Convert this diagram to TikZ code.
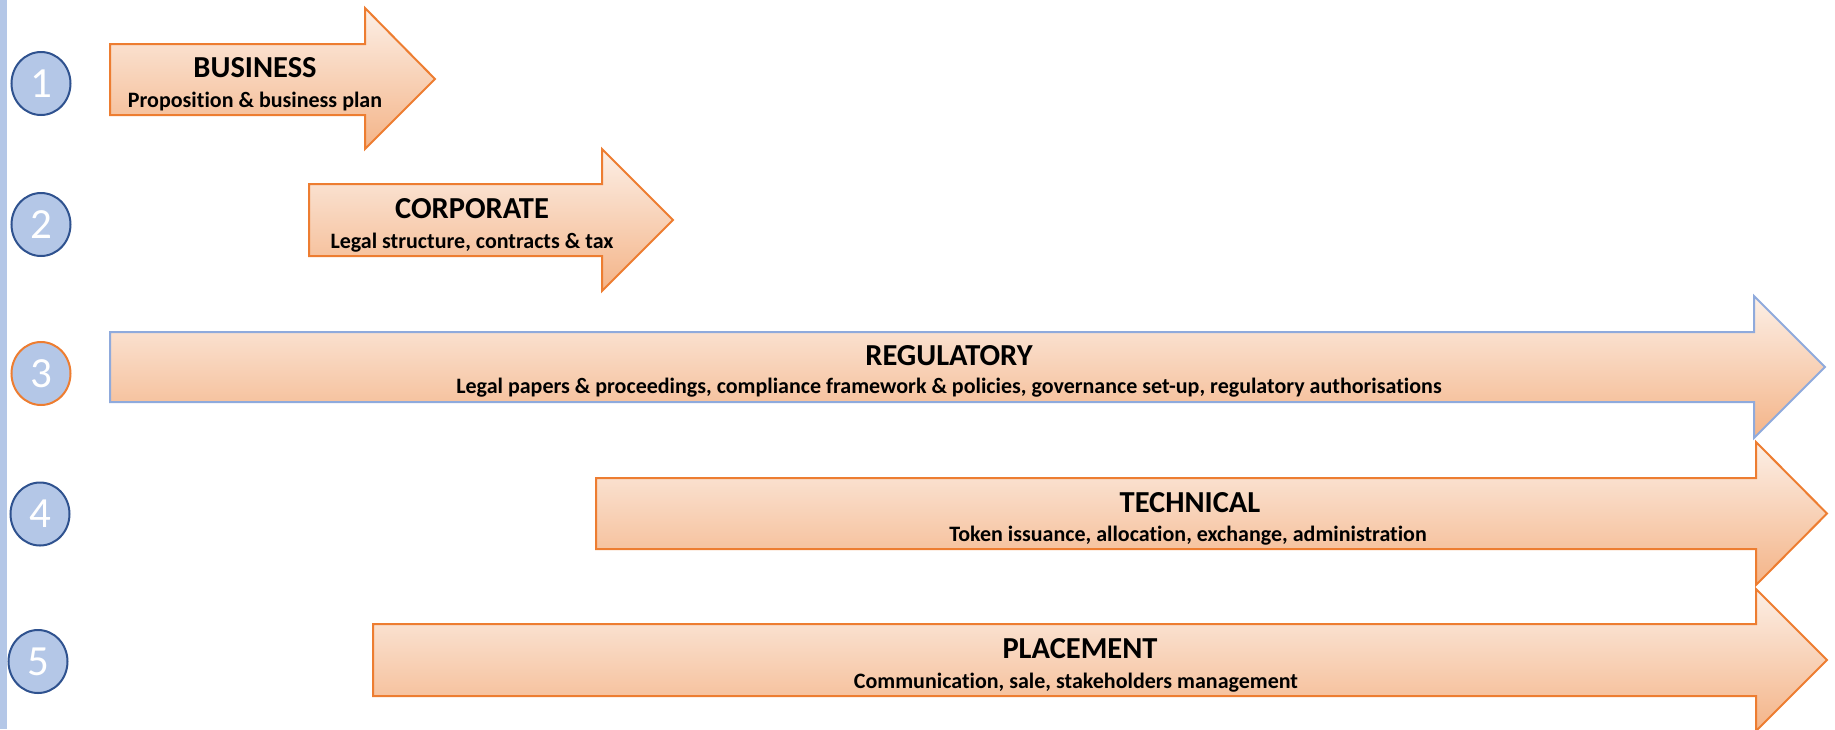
\documentclass[tikz,border=0pt]{standalone}
\usepackage{fontspec}
\setmainfont{Carlito}[RawFeature=-liga]
\usepackage{xcolor}
\usepackage{tikz}
\usetikzlibrary{shapes.geometric}
\definecolor{stageorange}{RGB}{237,125,49}
\definecolor{stageblue}{RGB}{143,170,220}
\definecolor{stagetop}{RGB}{252,239,230}
\definecolor{stagebottom}{RGB}{244,180,136}
\definecolor{numfill}{RGB}{180,199,231}
\definecolor{numline}{RGB}{47,82,143}
\tikzset{
 stage/.style={draw=stageorange,line width=2pt,line join=miter,
   top color=stagetop,bottom color=stagebottom},
 stage title/.style={anchor=base,inner sep=0pt,
   font=\bfseries\fontsize{30.5}{30.5}\selectfont},
 stage text/.style={anchor=base,inner sep=0pt,
   font=\bfseries\fontsize{22}{22}\selectfont},
 number/.style={ellipse,draw=numline,line width=2pt,fill=numfill,
   minimum width=59pt,minimum height=63pt,inner sep=0pt,text=white,
   font=\fontsize{43}{43}\selectfont}
 }
\begin{document}
\begin{tikzpicture}[x=1pt,y=-1pt]
      \useasboundingbox (0,0) rectangle (1835,729);
      \fill[numfill] (0,0) rectangle (7,729);
      % step numbers
      \node[number] (n1) at (41,83.5) {1};
      \node[number] (n2) at (41,224.5) {2};
      \node[number,draw=stageorange] (n3) at (41,373.5) {3};
      \node[number] (n4) at (40,514) {4};
      \node[number] (n5) at (38,661.5) {5};
      % stage arrows
      \draw[stage] (110,44) -- (365,44) -- (365,8) -- (435,79) -- (365,149) -- (365,115) -- (110,115) -- cycle;
      \draw[stage] (309,184) -- (602,184) -- (602,149) -- (673,220) -- (602,291) -- (602,256) -- (309,256) -- cycle;
      \draw[stage,draw=stageblue] (110,332) -- (1754,332) -- (1754,296) -- (1825,367) -- (1754,438) -- (1754,402) -- (110,402) -- cycle;
      \draw[stage] (596,478) -- (1756,478) -- (1756,442) -- (1827,513.5) -- (1756,585) -- (1756,549) -- (596,549) -- cycle;
      \draw[stage] (373,624) -- (1756,624) -- (1756,589) -- (1827,660) -- (1756,731) -- (1756,696) -- (373,696) -- cycle;
      % labels
      \node[stage title] (business) at (255,77) {BUSINESS};
      \node[stage text] (business text) at (255,107) {Proposition \& business plan};
      \node[stage title] (corporate) at (472,218) {CORPORATE};
      \node[stage text] (corporate text) at (472,248) {Legal structure, contracts \& tax};
      \node[stage title] (regulatory) at (949,365) {REGULATORY};
      \node[stage text] (regulatory text) at (949,393) {Legal papers \& proceedings, compliance framework \& policies, governance set-up, regulatory authorisations};
      \node[stage title] (technical) at (1190,512) {TECHNICAL};
      \node[stage text] (technical text) at (1188,541) {Token issuance, allocation, exchange, administration};
      \node[stage title] (placement) at (1080,658) {PLACEMENT};
      \node[stage text] (placement text) at (1076,688) {Communication, sale, stakeholders management};
\end{tikzpicture}
\end{document}
